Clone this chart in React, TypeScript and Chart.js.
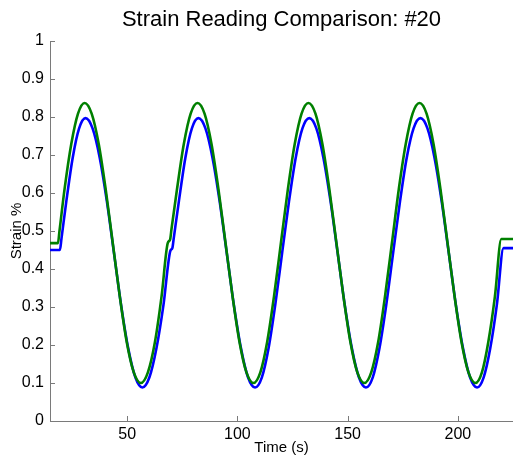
import React, { useEffect, useRef } from "react";
import { Chart, registerables } from "chart.js";

Chart.register(...registerables);

const TITLE = "Strain Reading Comparison: #20";
const X_LABEL = "Time (s)";
const Y_LABEL = "Strain %";
const X_TICKS = [50, 100, 150, 200];
const Y_TICKS = [0, 0.1, 0.2, 0.3, 0.4, 0.5, 0.6, 0.7, 0.8, 0.9, 1];
const X_MIN = 15;
const X_MAX = 225;

const greenTime = [
  15, 18.6, 19.3, 21.6, 24.65, 27.7, 30.7,
  33.9, 37.1, 40.25, 43.45, 46.65, 49.8, 53.0, 56.2,
  59.4, 62.6, 65.6, 68.4, 69.5, 70.1, 72.6, 75.7, 78.8, 81.9,
  85.1, 88.25, 91.4, 94.6, 97.8, 100.95, 104.1, 107.3,
  110.4, 113.5, 116.6, 119.75, 122.9, 126.0, 129.1, 132.2,
  135.4, 138.55, 141.7, 144.9, 148.1, 151.25, 154.4, 157.6,
  160.7, 163.85, 166.95, 170.1, 173.2, 176.35, 179.45, 182.6,
  185.8, 188.95, 192.1, 195.3, 198.5, 201.65, 204.8, 208.0,
  210.9, 213.8, 216.8, 219.7, 225,
];
const greenStrain = [
  0.468, 0.468, 0.5, 0.61, 0.729, 0.809, 0.837,
  0.809, 0.729, 0.61, 0.469, 0.328, 0.208, 0.128, 0.1,
  0.128, 0.208, 0.328, 0.468, 0.478, 0.505, 0.61, 0.729, 0.809, 0.837,
  0.809, 0.729, 0.61, 0.469, 0.328, 0.208, 0.128, 0.1,
  0.128, 0.208, 0.328, 0.469, 0.61, 0.729, 0.809, 0.837,
  0.809, 0.729, 0.61, 0.469, 0.328, 0.208, 0.128, 0.1,
  0.128, 0.208, 0.328, 0.469, 0.61, 0.729, 0.809, 0.837,
  0.809, 0.729, 0.61, 0.469, 0.328, 0.208, 0.128, 0.1,
  0.128, 0.208, 0.328, 0.479, 0.479,
];

const blueTime = [
  15, 19.5, 20.2, 22.4, 25.3, 28.2, 31.1,
  34.3, 37.55, 40.8, 44.0, 47.2, 50.45, 53.7, 56.9,
  60.1, 63.3, 66.5, 69.6, 70.5, 71.1, 73.45, 76.4, 79.35, 82.3,
  85.5, 88.7, 91.95, 95.15, 98.35, 101.6, 104.8, 108.0,
  111.1, 114.15, 117.2, 120.3, 123.4, 126.45, 129.5, 132.6,
  135.8, 139.0, 142.25, 145.45, 148.65, 151.9, 155.1, 158.3,
  161.4, 164.45, 167.55, 170.65, 173.75, 176.8, 179.9, 183.0,
  186.2, 189.4, 192.65, 195.85, 199.05, 202.3, 205.5, 208.7,
  211.7, 214.7, 217.7, 220.7, 225,
];
const blueStrain = [
  0.45, 0.45, 0.48, 0.578, 0.693, 0.77, 0.797,
  0.77, 0.693, 0.578, 0.443, 0.307, 0.192, 0.115, 0.088,
  0.115, 0.192, 0.307, 0.448, 0.455, 0.48, 0.578, 0.693, 0.77, 0.797,
  0.77, 0.693, 0.578, 0.443, 0.307, 0.192, 0.115, 0.088,
  0.115, 0.192, 0.307, 0.443, 0.578, 0.693, 0.77, 0.797,
  0.77, 0.693, 0.578, 0.443, 0.307, 0.192, 0.115, 0.088,
  0.115, 0.192, 0.307, 0.443, 0.578, 0.693, 0.77, 0.797,
  0.77, 0.693, 0.578, 0.443, 0.307, 0.192, 0.115, 0.088,
  0.115, 0.192, 0.307, 0.455, 0.455,
];

const FONT = "'Liberation Sans', Arial, Helvetica, sans-serif";
const AXIS_COLOR = "#7a7a7a";

const innerTicks = {
  id: "innerTicks",
  afterDraw(chart: any) {
    const { ctx, chartArea, scales } = chart;
    ctx.save();
    ctx.strokeStyle = AXIS_COLOR;
    ctx.lineWidth = 1;
    ctx.beginPath();
    scales.y.ticks.forEach((t: any) => {
      const y = Math.round(scales.y.getPixelForValue(t.value)) + 0.5;
      ctx.moveTo(chartArea.left, y);
      ctx.lineTo(chartArea.left + 5, y);
    });
    scales.x.ticks.forEach((t: any) => {
      const x = Math.round(scales.x.getPixelForValue(t.value)) + 0.5;
      ctx.moveTo(x, chartArea.bottom);
      ctx.lineTo(x, chartArea.bottom - 5);
    });
    ctx.stroke();
    ctx.restore();
  },
};

export default function App() {
  const ref = useRef<HTMLCanvasElement | null>(null);
  useEffect(() => {
    document.body.style.margin = "0";
    document.body.style.overflow = "hidden";
    const toPts = (xs: number[], ys: number[]) => xs.map((x, i) => ({ x, y: ys[i] }));
    const chart = new Chart(ref.current as HTMLCanvasElement, {
      type: "line",
      data: {
        datasets: [
          {
            label: "Green",
            data: toPts(greenTime, greenStrain),
            borderColor: "#008000",
            borderWidth: 2.6,
            pointRadius: 0,
            cubicInterpolationMode: "monotone",
            order: 0,
          },
          {
            label: "Blue",
            data: toPts(blueTime, blueStrain),
            borderColor: "#0000ff",
            borderWidth: 2.6,
            pointRadius: 0,
            cubicInterpolationMode: "monotone",
            order: 1,
          },
        ],
      },
      options: {
        animation: false,
        responsive: false,
        layout: { padding: 0 },
        plugins: {
          legend: { display: false },
          tooltip: { enabled: false },
          title: {
            display: true,
            text: TITLE,
            fullSize: false,
            color: "#000",
            font: { family: FONT, size: 22, weight: "normal" },
            padding: { top: 7, bottom: 7.6 },
          },
        },
        scales: {
          x: {
            type: "linear",
            min: X_MIN,
            max: X_MAX,
            afterBuildTicks: (s: any) => {
              s.ticks = X_TICKS.map((v) => ({ value: v }));
            },
            afterFit: (s: any) => {
              s.height = 37;
            },
            grid: { display: false, drawTicks: false },
            border: { display: true, color: AXIS_COLOR, width: 1 },
            ticks: {
              color: "#000",
              padding: 4,
              maxRotation: 0,
              font: { family: FONT, size: 16 },
              callback: (v: any) => String(v),
            },
            title: {
              display: true,
              text: X_LABEL,
              color: "#000",
              font: { family: FONT, size: 15 },
              padding: { top: 0, bottom: 1 },
            },
          },
          y: {
            type: "linear",
            min: 0,
            max: 1,
            afterBuildTicks: (s: any) => {
              s.ticks = Y_TICKS.map((v) => ({ value: v }));
            },
            afterFit: (s: any) => {
              s.width = 50;
            },
            grid: { display: false, drawTicks: false },
            border: { display: true, color: AXIS_COLOR, width: 1 },
            ticks: {
              color: "#000",
              padding: 6,
              font: { family: FONT, size: 16 },
              callback: (v: any) => String(Math.round(Number(v) * 10) / 10),
            },
            title: {
              display: true,
              text: Y_LABEL,
              color: "#000",
              font: { family: FONT, size: 15 },
              padding: { top: 8, bottom: 0 },
            },
          },
        },
      },
      plugins: [innerTicks],
    } as any);
    return () => chart.destroy();
  }, []);
  return (
    <div style={{ width: 513, height: 458, background: "#fff" }}>
      <canvas ref={ref} width={513} height={458} />
    </div>
  );
}
